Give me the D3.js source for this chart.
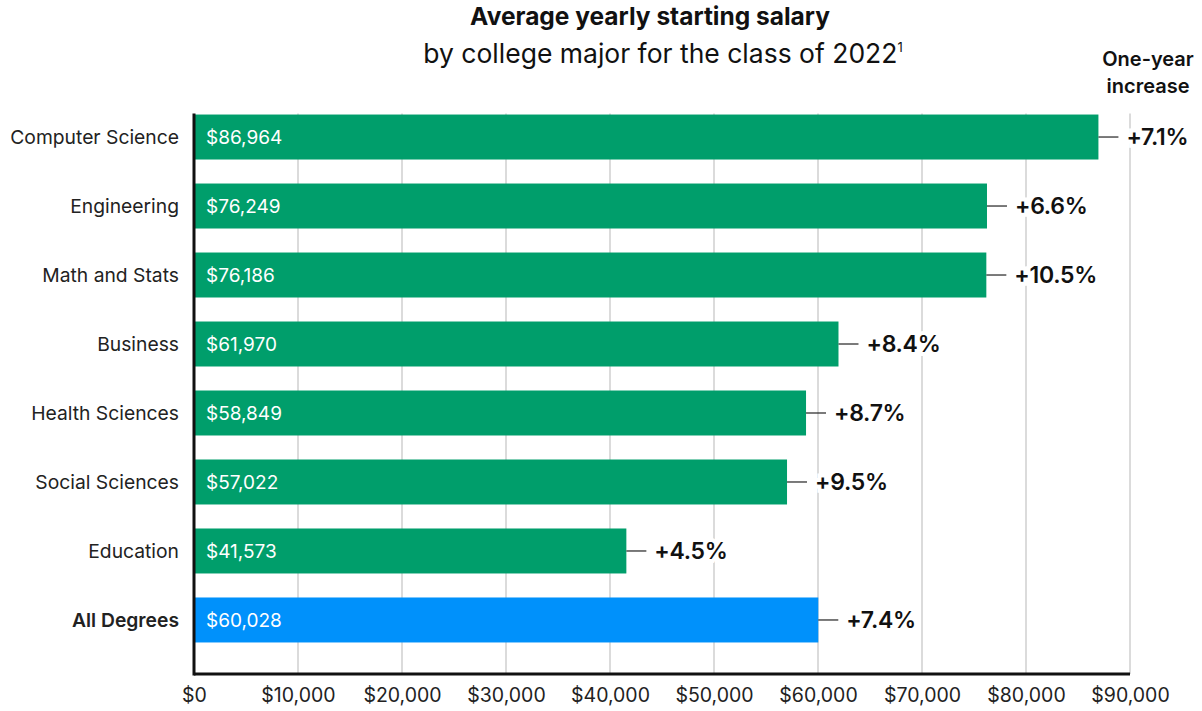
<!DOCTYPE html>
<html>
<head>
<meta charset="utf-8">
<script src="https://cdn.jsdelivr.net/npm/d3@7"></script>
<style>
  body { margin: 0; background: #fff; }
  svg { font-family: Inter, "Noto Sans", sans-serif; display: block; }
</style>
</head>
<body>
<svg id="chart" width="1202" height="711"></svg>
<script>
// data
var majors = ["Computer Science", "Engineering", "Math and Stats", "Business",
              "Health Sciences", "Social Sciences", "Education", "All Degrees"];
var salaries = [86964, 76249, 76186, 61970, 58849, 57022, 41573, 60028];
var increases = ["+7.1%", "+6.6%", "+10.5%", "+8.4%", "+8.7%", "+9.5%", "+4.5%", "+7.4%"];
var tickValues = [0, 10000, 20000, 30000, 40000, 50000, 60000, 70000, 80000, 90000];

var svg = d3.select("#chart");

var margin = {top: 83, left: 194, right: 72, bottom: 37};
var width = 1202 - margin.left - margin.right,
    height = 711 - margin.top - margin.bottom;

var x = d3.scaleLinear()
    .domain([0, 90000])
    .range([0, width]);

var y = d3.scaleBand()
    .domain(majors)
    .range([0, height])
    .paddingInner(0.348)
    .paddingOuter(0.457);

var fmt = d3.format("$,");

var g = svg.append("g")
    .attr("transform", "translate(" + margin.left + "," + margin.top + ")");

var plotTop = y(majors[0]) - 1;

// gridlines
g.selectAll(".grid")
    .data(tickValues.slice(1))
  .enter().append("line")
    .attr("x1", x).attr("x2", x)
    .attr("y1", plotTop).attr("y2", height)
    .attr("stroke", "#cfcfcf")
    .attr("stroke-width", 1.5);

// bars
g.selectAll(".bar")
    .data(salaries)
  .enter().append("rect")
    .attr("x", 0)
    .attr("y", function(d, i) { return y(majors[i]); })
    .attr("width", function(d) { return x(d); })
    .attr("height", y.bandwidth())
    .attr("fill", function(d, i) { return i == majors.length - 1 ? "#0091fb" : "#009e6b"; });

// value labels inside bars
g.selectAll(".val")
    .data(salaries)
  .enter().append("text")
    .attr("x", 12)
    .attr("y", function(d, i) { return y(majors[i]) + y.bandwidth() / 2; })
    .attr("dy", "0.35em")
    .attr("fill", "#fff")
    .style("font-size", "19px")
    .text(function(d) { return fmt(d); });

// leader ticks + increase labels
g.selectAll(".lead")
    .data(salaries)
  .enter().append("line")
    .attr("x1", function(d) { return x(d); })
    .attr("x2", function(d) { return x(d) + 20; })
    .attr("y1", function(d, i) { return y(majors[i]) + y.bandwidth() / 2; })
    .attr("y2", function(d, i) { return y(majors[i]) + y.bandwidth() / 2; })
    .attr("stroke", "#222")
    .attr("stroke-width", 1.2);

g.selectAll(".inc")
    .data(salaries)
  .enter().append("text")
    .attr("x", function(d) { return x(d) + 28; })
    .attr("y", function(d, i) { return y(majors[i]) + y.bandwidth() / 2; })
    .attr("dy", "0.35em")
    .attr("fill", "#111")
    .attr("stroke", "#fff")
    .attr("stroke-width", 8)
    .attr("paint-order", "stroke")
    .style("font-size", "23px")
    .style("font-weight", 600)
    .style("letter-spacing", "-0.3px")
    .text(function(d, i) { return increases[i]; });

// category labels
g.selectAll(".cat")
    .data(majors)
  .enter().append("text")
    .attr("x", -15)
    .attr("y", function(d) { return y(d) + y.bandwidth() / 2; })
    .attr("dy", "0.35em")
    .attr("text-anchor", "end")
    .attr("fill", "#222")
    .style("font-size", "19.3px")
    .style("font-weight", function(d, i) { return i == majors.length - 1 ? 600 : 400; })
    .text(function(d) { return d; });

// x axis
var xAxis = g.append("g")
    .attr("transform", "translate(0," + height + ")")
    .call(d3.axisBottom(x).tickValues(tickValues).tickFormat(fmt).tickSize(0).tickPadding(14));
xAxis.select(".domain").remove();
xAxis.selectAll("text")
    .attr("fill", "#222")
    .style("font-family", "Inter, sans-serif")
    .style("font-size", "19.5px");

// axis lines
g.append("line")
    .attr("x1", 0).attr("x2", width)
    .attr("y1", height).attr("y2", height)
    .attr("stroke", "#111").attr("stroke-width", 3);
g.append("line")
    .attr("x1", 0).attr("x2", 0)
    .attr("y1", plotTop).attr("y2", height + 1.5)
    .attr("stroke", "#111").attr("stroke-width", 3);

// titles
svg.append("text")
    .attr("x", 650).attr("y", 25)
    .attr("text-anchor", "middle")
    .attr("fill", "#111")
    .style("font-size", "24.5px")
    .style("font-weight", 700)
    .text("Average yearly starting salary");

var sub = svg.append("text")
    .attr("x", 663).attr("y", 63)
    .attr("text-anchor", "middle")
    .attr("fill", "#111")
    .style("font-size", "26.5px");
sub.append("tspan").text("by college major for the class of 2022");
sub.append("tspan")
    .attr("dy", -11)
    .style("font-size", "13px")
    .text("1");

svg.append("text")
    .attr("x", 1148).attr("y", 66)
    .attr("text-anchor", "middle")
    .attr("fill", "#111")
    .style("font-size", "20px")
    .style("font-weight", 600)
    .selectAll("tspan")
    .data(["One-year", "increase"])
  .enter().append("tspan")
    .attr("x", 1148)
    .attr("dy", function(d, i) { return i ? 27 : 0; })
    .text(function(d) { return d; });
</script>
</body>
</html>
